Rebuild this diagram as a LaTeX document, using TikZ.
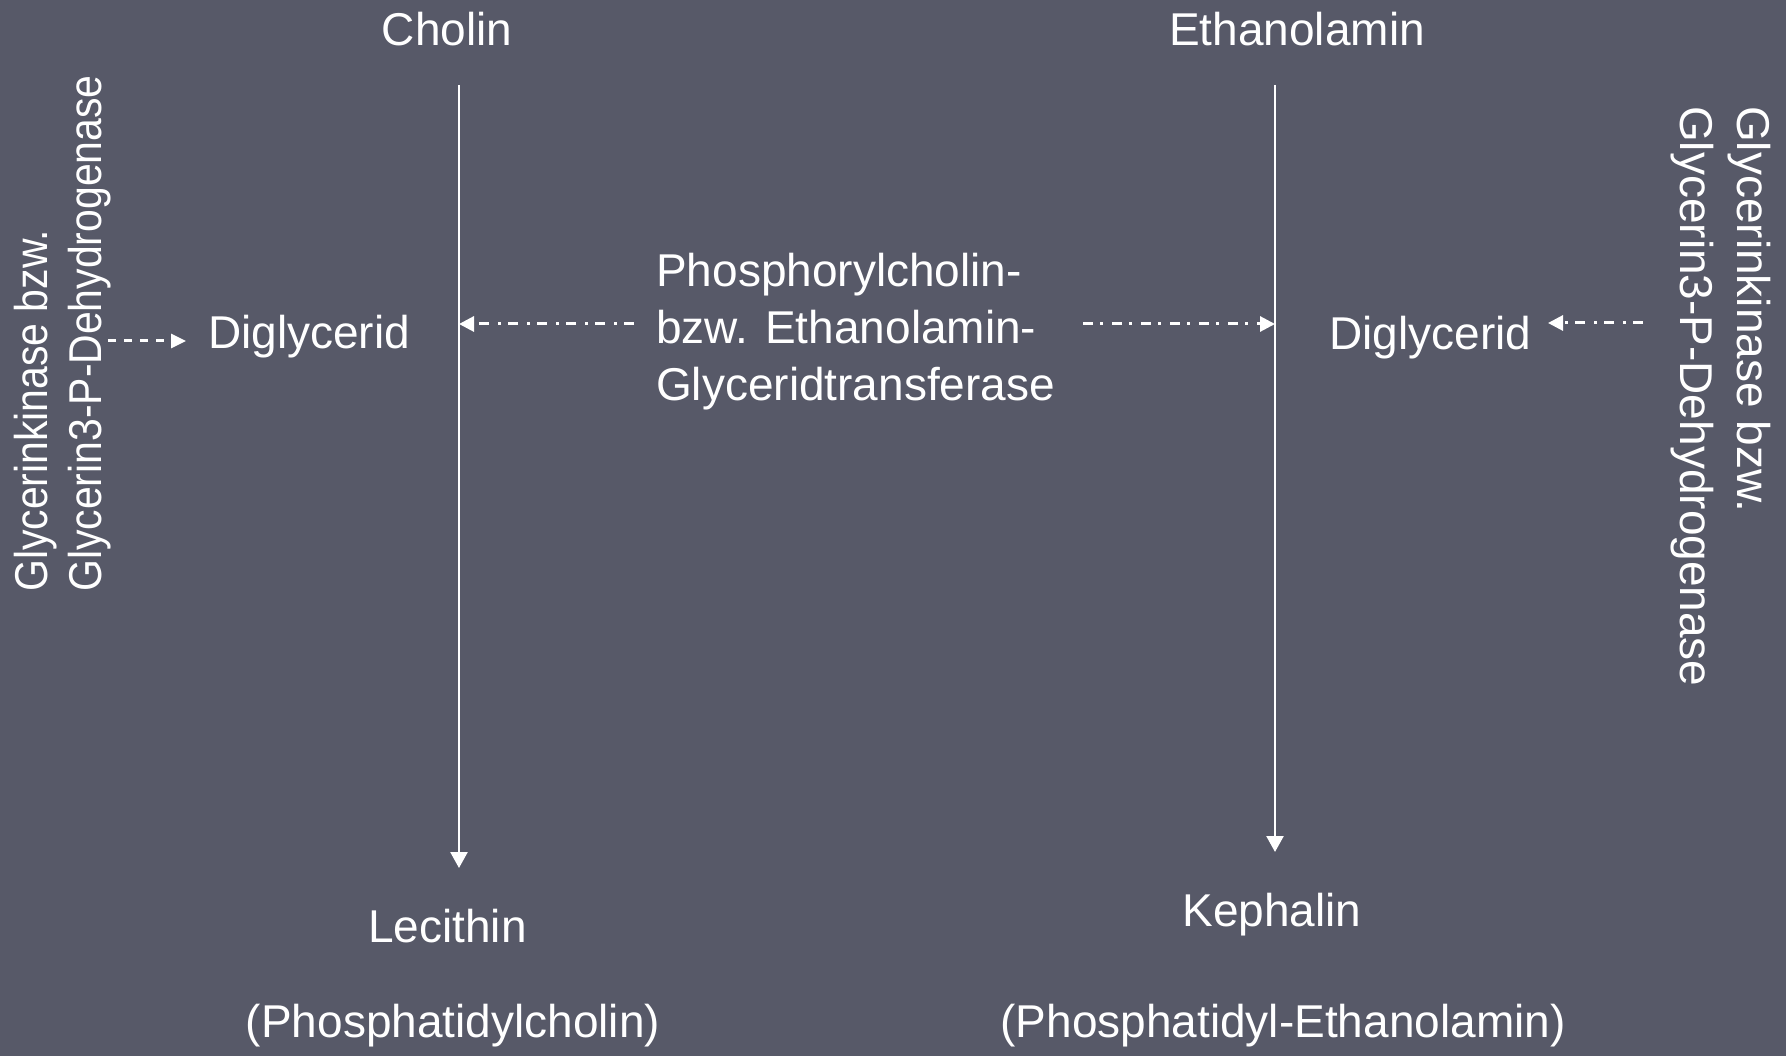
\documentclass[tikz,border=0pt]{standalone}
\usepackage{fontspec}
\setmainfont{Liberation Sans}
\usetikzlibrary{arrows.meta}
\definecolor{bg}{RGB}{87,89,104}
\begin{document}
\begin{tikzpicture}[x=1pt,y=-1pt,
  lbl/.style={text=white, inner sep=0pt, font=\fontsize{46}{54}\selectfont},
  mainline/.style={draw=white, line width=2.5pt, -{Triangle[length=16pt,width=17pt]}},
  dashdot/.style={draw=white, line width=3pt, dash pattern=on 10pt off 7pt on 3pt off 9pt, -{Triangle[length=15pt,width=15pt]}},
  dashline/.style={draw=white, line width=3pt, dash pattern=on 8pt off 8pt, -{Triangle[length=15pt,width=14pt]}}]
\fill[bg] (0,0) rectangle (1786,1056);
\useasboundingbox (0,0) rectangle (1786,1056);

% top and bottom labels
\node[lbl, anchor=base] (cholin) at (447,46) {Cholin};
\node[lbl, anchor=base] (ethanol) at (1297,46) {Ethanolamin};
\node[lbl, anchor=base] (lecithin) at (447.5,942) {Lecithin};
\node[lbl, anchor=base] (pc) at (453,1037) {(Phosphatidylcholin)};
\node[lbl, anchor=base] (kephalin) at (1272,926) {Kephalin};
\node[lbl, anchor=base] (pe) at (1283,1037) {(Phosphatidyl-Ethanolamin)};

% Diglycerid labels
\node[lbl, anchor=base west] (dgL) at (208,349) {Diglycerid};
\node[lbl, anchor=base west] (dgR) at (1329,350) {Diglycerid};

% middle enzyme text
\node[lbl, anchor=base west] (m1) at (656,287) {Phosphorylcholin-};
\node[lbl, anchor=base west] (m2) at (656,344) {bzw. Ethanolamin-};
\node[lbl, anchor=base west] (m3) at (656,401) {Glyceridtransferase};

% vertical enzyme texts
\node[lbl, anchor=base west, rotate=90] (vl1) at (47,592) {\scalebox{0.89}[1]{Glycerinkinase bzw.}};
\node[lbl, anchor=base west, rotate=90] (vl2) at (101,592) {\scalebox{0.89}[1]{Glycerin3-P-Dehydrogenase}};
\node[lbl, anchor=base west, rotate=-90] (vr1) at (1737,106) {Glycerinkinase bzw.};
\node[lbl, anchor=base west, rotate=-90] (vr2) at (1680,106) {Glycerin3-P-Dehydrogenase};

% main reaction lines
\coordinate (lt) at (459,85);
\coordinate (lb) at (459,868);
\coordinate (rt) at (1275,85);
\coordinate (rb) at (1275,852);
\draw[mainline] (lt) -- (lb);
\draw[mainline] (rt) -- (rb);

% transferase arrows
\coordinate (ma) at (634,324);
\coordinate (mb) at (1083,324);
\draw[dashdot] (ma) -- (lt |- ma);
\draw[dashdot] (mb) -- (rt |- mb);

% kinase arrows
\coordinate (ls) at (108,341);
\coordinate (le) at (186,341);
\draw[dashline] (ls) -- (le);
\coordinate (rs) at (1643,323);
\coordinate (re) at (1548,323);
\draw[dashdot] (rs) -- (re);
\end{tikzpicture}
\end{document}
